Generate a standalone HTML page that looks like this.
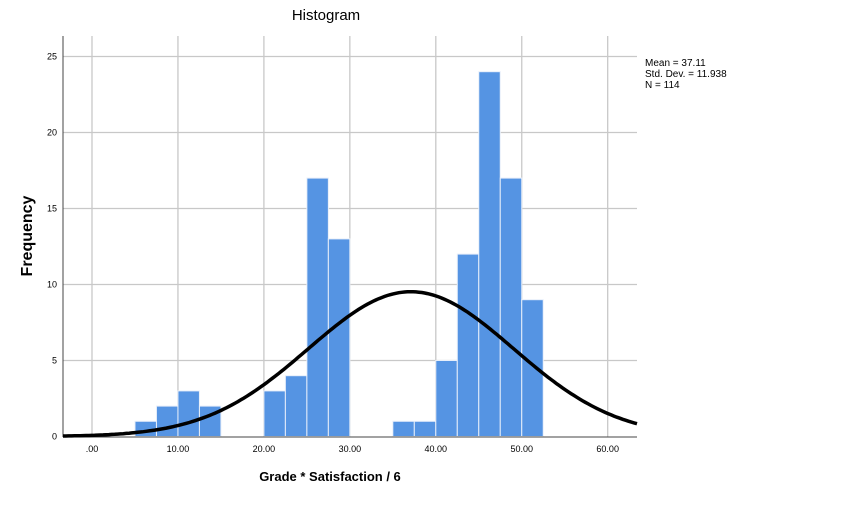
<!DOCTYPE html>
<html><head><meta charset="utf-8"><style>
body{margin:0;background:#fff;width:851px;height:501px;overflow:hidden;font-family:"Liberation Sans",sans-serif}
</style></head><body>
<svg id="chart" width="851" height="501" xmlns="http://www.w3.org/2000/svg">
<text x="326" y="20" text-anchor="middle" font-size="15" font-family="Liberation Sans, sans-serif">Histogram</text>
<g id="grid"></g>
<g id="bars"></g>
<g id="axes"></g>
<path id="curve" fill="none" stroke="#000" stroke-width="3.5"/>
<text transform="translate(32,236) rotate(-90)" text-anchor="middle" font-size="16" font-weight="bold" font-family="Liberation Sans, sans-serif">Frequency</text>
<text x="330" y="481" text-anchor="middle" font-size="13" font-weight="bold" font-family="Liberation Sans, sans-serif">Grade * Satisfaction / 6</text>
<g font-size="10" font-family="Liberation Sans, sans-serif">
<text x="645" y="66">Mean = 37.11</text>
<text x="645" y="77">Std. Dev. = 11.938</text>
<text x="645" y="88">N = 114</text>
</g>
</svg>
<script>
const binStarts=[5,7.5,10,12.5,20,22.5,25,27.5,35,37.5,40,42.5,45,47.5,50];
const counts=[1,2,3,2,3,4,17,13,1,1,5,12,24,17,9];
const binWidth=2.5;
const xTicks=[0,10,20,30,40,50,60];
const xTickLabels=[".00","10.00","20.00","30.00","40.00","50.00","60.00"];
const yTicks=[0,5,10,15,20,25];
const mean=37.11, sd=11.938, n=114;
const NS="http://www.w3.org/2000/svg";
const L=63,R=637,T=36,B=437;
const sx=v=>92+v*8.595;
const sy=v=>436.5-v*15.2;
const grid=document.getElementById('grid'),bars=document.getElementById('bars'),axes=document.getElementById('axes');
function mk(tag,attrs,parent){const e=document.createElementNS(NS,tag);for(const k in attrs)e.setAttribute(k,attrs[k]);parent.appendChild(e);return e;}
xTicks.forEach((t,i)=>{
 const g=mk('line',{x1:sx(t),x2:sx(t),y1:T,y2:B,stroke:'#c8c8c8','stroke-width':1.3},grid);
 
 
 const tx=mk('text',{x:sx(t),y:452,'text-anchor':'middle','font-size':9},axes);
 tx.textContent=xTickLabels[i];
 
 
});
yTicks.forEach(t=>{
 if(t>0){const g=mk('line',{x1:L,x2:R,y1:sy(t),y2:sy(t),stroke:'#c8c8c8','stroke-width':1.3},grid);
 
 }
 const tx=mk('text',{x:57,y:sy(t)+3,'text-anchor':'end','font-size':9},axes);
 tx.textContent=t;
 
 
});
binStarts.forEach((s,i)=>{
 const x0=sx(s),x1=sx(s+binWidth);
 const r=mk('rect',{x:x0,y:sy(counts[i]),width:x1-x0,height:sy(0)-sy(counts[i]),fill:'#5594e3',stroke:'#e8effa','stroke-width':1},bars);
 
 
});
const ax=mk('line',{x1:L,x2:L,y1:T,y2:B,stroke:'#444','stroke-width':1},axes);


const bx=mk('line',{x1:L,x2:R,y1:B,y2:B,stroke:'#444','stroke-width':1},axes);


let d='';
const xmin=(L-92)/8.595,xmax=(R-92)/8.595;
for(let i=0;i<=200;i++){const v=xmin+(xmax-xmin)*i/200;const y=n*binWidth/(sd*Math.sqrt(2*Math.PI))*Math.exp(-0.5*((v-mean)/sd)**2);d+=(i?'L':'M')+sx(v).toFixed(1)+','+sy(y).toFixed(1);}
document.getElementById('curve').setAttribute('d',d);
</script>
</body></html>
